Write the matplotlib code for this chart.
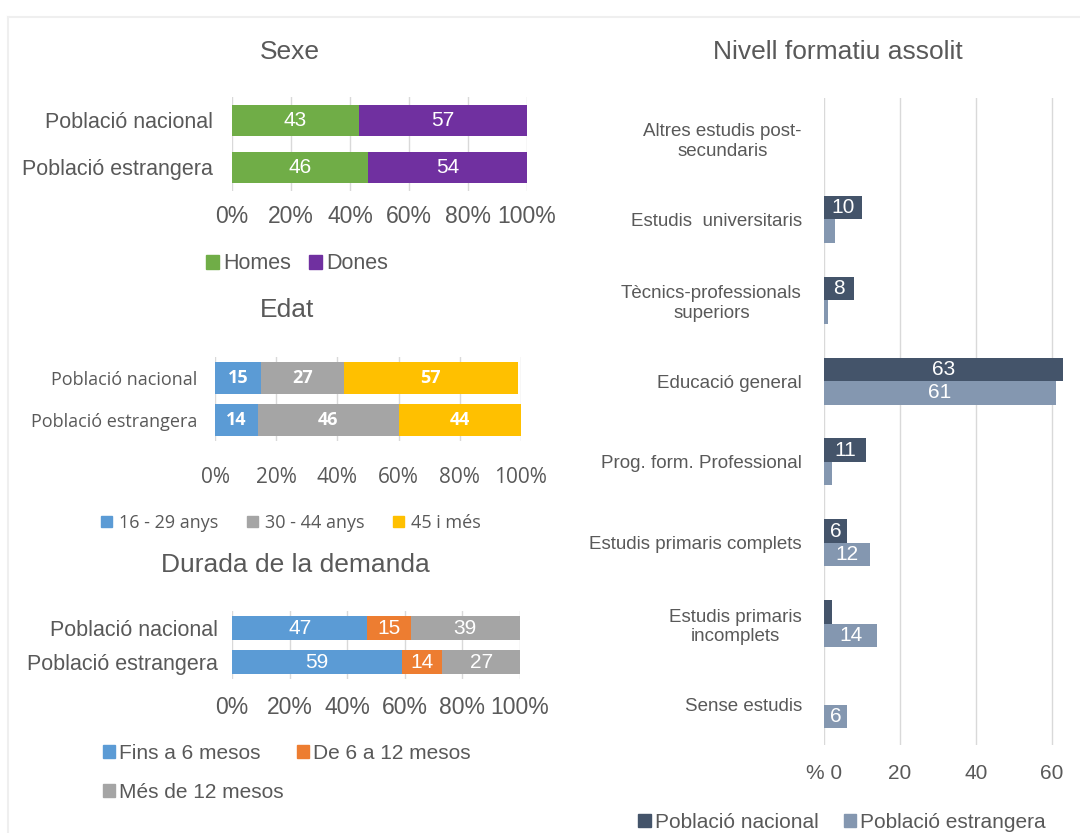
import numpy as np
import matplotlib.pyplot as plt
from matplotlib.patches import Patch
from matplotlib.lines import Line2D

plt.rcParams['font.family'] = ['Liberation Sans', 'DejaVu Sans']

W, H = 1080, 833
TXT = '#595959'
GRID = '#D9D9D9'

# data
groups = ['Població nacional', 'Població estrangera']

sexe_cats = ['Homes', 'Dones']
sexe_vals = [[43, 46], [57, 54]]
sexe_cols = ['#70AD47', '#7030A0']

edat_cats = ['16 - 29 anys', '30 - 44 anys', '45 i més']
edat_vals = [[15, 14], [27, 46], [57, 44]]
edat_cols = ['#5B9BD5', '#A5A5A5', '#FFC000']

dur_cats = ['Fins a 6 mesos', 'De 6 a 12 mesos', 'Més de 12 mesos']
dur_vals = [[47, 59], [15, 14], [39, 27]]
dur_cols = ['#5B9BD5', '#ED7D31', '#A5A5A5']

niv_cats = ['Altres estudis post-\nsecundaris', 'Estudis  universitaris',
            'Tècnics-professionals\nsuperiors', 'Educació general',
            'Prog. form. Professional', 'Estudis primaris complets',
            'Estudis primaris\nincomplets', 'Sense estudis']
niv_nac = [0, 10, 8, 63, 11, 6, 2, 0]
niv_est = [0, 3, 1, 61, 2, 12, 14, 6]
niv_cols = ['#44546A', '#8497B0']


def px_axes(fig, x0, y0, x1, y1):
    return fig.add_axes([x0 / W, 1 - y1 / H, (x1 - x0) / W, (y1 - y0) / H])


def stacked(ax, vals, cols, cats, height, fs_lab, fs_tick, fs_val, bold, fam, pad, ypad):
    y = np.arange(len(groups))
    left = np.zeros(len(groups))
    for v, c, name in zip(vals, cols, cats):
        bars = ax.barh(y, v, left=left, color=c, height=height, label=name, zorder=2)
        ax.bar_label(bars, label_type='center', color='white', fontsize=fs_val,
                     fontweight='bold' if bold else 'normal', family=fam)
        left += np.array(v)
    ax.set_xlim(0, 100)
    ax.set_ylim(len(groups) - 0.5, -0.5)
    ax.set_yticks(y)
    ax.set_yticklabels(groups, fontsize=fs_lab, color=TXT, family=fam)
    ax.set_xticks(np.arange(0, 101, 20))
    ax.set_xticklabels([f'{t}%' for t in range(0, 101, 20)], fontsize=fs_tick, color=TXT, family=fam)
    ax.tick_params(length=0)
    ax.tick_params(axis='x', pad=pad)
    ax.tick_params(axis='y', pad=ypad)
    ax.grid(axis='x', color=GRID, lw=1, zorder=0)
    for s in ax.spines.values():
        s.set_visible(False)


fig = plt.figure(figsize=(W / 100, H / 100), dpi=100)

# outer frame
fig.add_artist(Line2D([8 / W, 8 / W], [0, 1 - 17 / H], color='#EFEFEF', lw=1.5))
fig.add_artist(Line2D([8 / W, 1], [1 - 17 / H, 1 - 17 / H], color='#EFEFEF', lw=1.5))

# Sexe
ax1 = px_axes(fig, 232, 97, 527, 191)
stacked(ax1, sexe_vals, sexe_cols, sexe_cats, 0.68, 15.5, 16.5, 15, False, 'Liberation Sans', 10, 14)
fig.text(290 / W, 1 - 52 / H, 'Sexe', ha='center', va='center', fontsize=19, color=TXT)
fig.legend(handles=[Patch(color=c, label=n) for c, n in zip(sexe_cols, sexe_cats)],
           loc='center', bbox_to_anchor=(297 / W, 1 - 264 / H), ncol=2, frameon=False,
           fontsize=15.5, labelcolor=TXT, handlelength=0.6, handleheight=0.6,
           handletextpad=0.2, columnspacing=0.8)

# Edat
ax2 = px_axes(fig, 215, 357, 521, 441)
stacked(ax2, edat_vals, edat_cols, edat_cats, 0.76, 13, 15, 13, True, 'Open Sans', 19, 13)
fig.text(287 / W, 1 - 310 / H, 'Edat', ha='center', va='center', fontsize=19, color=TXT)
fig.legend(handles=[Patch(color=c, label=n) for c, n in zip(edat_cols, edat_cats)],
           loc='center', bbox_to_anchor=(291 / W, 1 - 523 / H), ncol=3, frameon=False,
           prop={'family': 'Open Sans', 'size': 13}, labelcolor=TXT,
           handlelength=0.6, handleheight=0.6, handletextpad=0.4, columnspacing=1.6)

# Durada de la demanda
ax3 = px_axes(fig, 232, 611, 520, 679)
stacked(ax3, dur_vals, dur_cols, dur_cats, 0.72, 15.5, 16.5, 15, False, 'Liberation Sans', 12, 10)
fig.text(295 / W, 1 - 565 / H, 'Durada de la demanda', ha='center', va='center', fontsize=19, color=TXT)
dur_order = [0, 2, 1]
fig.legend(handles=[Patch(color=dur_cols[i], label=dur_cats[i]) for i in dur_order],
           loc='upper left', bbox_to_anchor=(84 / W, 1 - 725 / H), ncol=2, frameon=False,
           fontsize=15, labelcolor=TXT, handlelength=0.6, handleheight=0.6,
           handletextpad=0.2, columnspacing=0.6, labelspacing=0.95)

# Nivell formatiu assolit
ax4 = px_axes(fig, 824, 98, 1065, 745)
y = np.arange(len(niv_cats))
h = 0.29
b1 = ax4.barh(y - h / 2, niv_nac, height=h, color=niv_cols[0], label='Població nacional', zorder=2)
b2 = ax4.barh(y + h / 2, niv_est, height=h, color=niv_cols[1], label='Població estrangera', zorder=2)
ax4.bar_label(b1, labels=[str(v) if v >= 5 else '' for v in niv_nac], label_type='center',
              color='white', fontsize=15)
ax4.bar_label(b2, labels=[str(v) if v >= 5 else '' for v in niv_est], label_type='center',
              color='white', fontsize=15)
ax4.set_xlim(0, 63.5)
ax4.set_ylim(len(niv_cats) - 0.5, -0.5)
ax4.set_yticks(y)
ax4.set_yticklabels(niv_cats, fontsize=13.5, color=TXT, multialignment='center')
ax4.set_xticks([0, 20, 40, 60])
ax4.set_xticklabels(['% 0', '20', '40', '60'], fontsize=15, color=TXT)
ax4.tick_params(length=0)
ax4.tick_params(axis='x', pad=14)
ax4.tick_params(axis='y', pad=16)
ax4.grid(axis='x', color=GRID, lw=1, zorder=0)
for s in ax4.spines.values():
    s.set_visible(False)
fig.text(838 / W, 1 - 52 / H, 'Nivell formatiu assolit', ha='center', va='center', fontsize=19, color=TXT)
fig.legend(handles=[Patch(color=c, label=n) for c, n in zip(niv_cols, ['Població nacional', 'Població estrangera'])],
           loc='center', bbox_to_anchor=(842 / W, 1 - 822 / H), ncol=2, frameon=False,
           fontsize=15, labelcolor=TXT, handlelength=0.6, handleheight=0.6,
           handletextpad=0.2, columnspacing=1.2)

fig.savefig('out.png', dpi=100)
